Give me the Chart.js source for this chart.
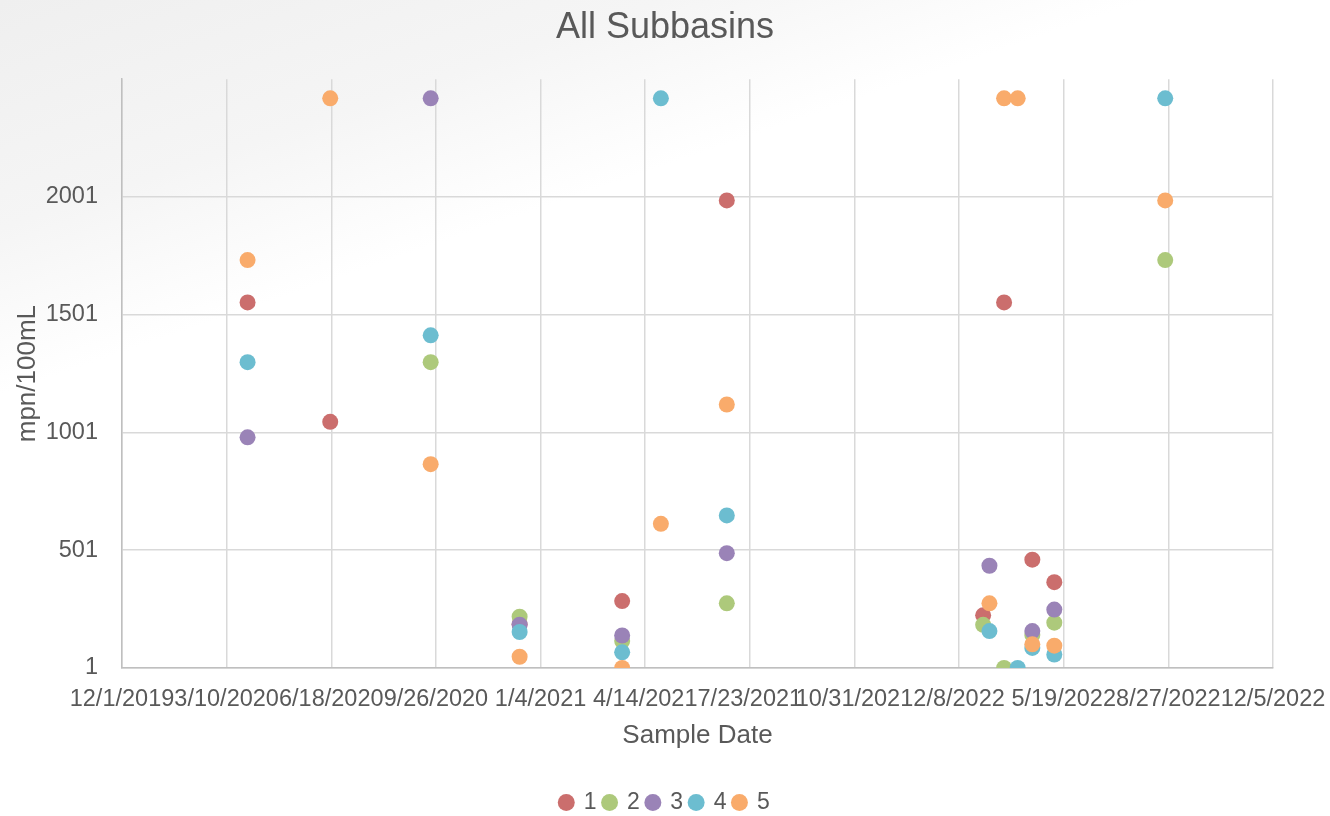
<!doctype html>
<html lang="en">
  <head>
    <meta charset="utf-8">
    <title>All Subbasins</title>
    <script src="https://cdn.jsdelivr.net/npm/chart.js"></script>
    <style>
      html, body { margin: 0; padding: 0; }
      body {
        width: 1330px;
        height: 816px;
        background: linear-gradient(161deg, #efefef 0%, #f5f5f5 18%, #fcfcfc 27%, #ffffff 31%);
        overflow: hidden;
      }
      .chart-box { position: relative; width: 1330px; height: 816px; }
    </style>
  </head>
  <body>
    <div class="chart-box">
      <canvas id="scatterChart" width="1330" height="816"></canvas>
    </div>
    <script>
      // series names and colours
      const subbasins = ['1', '2', '3', '4', '5'];
      const colors = ['#CB6E6D', '#ADC97B', '#9A83B7', '#6CBDD0', '#F9AB6B'];

      // sample dates and mpn/100mL per subbasin
      const dates1 = ['2020-03-30', '2020-06-17', '2020-12-15', '2021-03-23', '2021-07-01', '2022-03-03', '2022-03-23', '2022-04-19', '2022-05-10'];
      const values1 = [1553.1, 1046.2, 187, 285.1, 1986.3, 224.7, 1553.1, 461.1, 365.4];

      const dates2 = ['2020-09-21', '2020-12-15', '2021-03-23', '2021-07-01', '2022-03-03', '2022-03-23', '2022-04-19', '2022-05-10', '2022-08-24'];
      const values2 = [1299.7, 218.7, 115.3, 275.5, 184.2, 1, 141.4, 193.5, 1732.9];

      const dates3 = ['2020-03-30', '2020-09-21', '2020-12-15', '2021-03-23', '2021-07-01', '2022-03-09', '2022-04-19', '2022-05-10'];
      const values3 = [980.4, 2419.6, 185, 139.1, 488.4, 435.2, 157.6, 248.9];

      const dates4 = ['2020-03-30', '2020-09-21', '2020-12-15', '2021-03-23', '2021-04-29', '2021-07-01', '2022-03-09', '2022-04-05', '2022-04-19', '2022-05-10', '2022-08-24'];
      const values4 = [1299.7, 1413.6, 153.9, 67.7, 2419.6, 648.8, 157.6, 1, 86.2, 58.3, 2419.6];

      const dates5 = ['2020-03-30', '2020-06-17', '2020-09-21', '2020-12-15', '2021-03-23', '2021-04-29', '2021-07-01', '2022-03-09', '2022-03-23', '2022-04-05', '2022-04-19', '2022-05-10', '2022-08-24'];
      const values5 = [1732.9, 2419.6, 866.4, 48.7, 1, 613.1, 1119.9, 275.5, 2419.6, 2419.6, 101.7, 95.9, 1986.3];

      // axis settings
      const xStart = '2019-12-01';
      const xEnd = '2022-12-05';
      const xStepDays = 100;
      const yMin = 1;
      const yMax = 2501;
      const yStep = 500;

      const DAY = 86400000;
      function toDay(s) {
        const p = s.split('-').map(Number);
        const s0 = xStart.split('-').map(Number);
        return Math.round((Date.UTC(p[0], p[1] - 1, p[2]) - Date.UTC(s0[0], s0[1] - 1, s0[2])) / DAY);
      }
      function dayLabel(d) {
        const s0 = xStart.split('-').map(Number);
        const dt = new Date(Date.UTC(s0[0], s0[1] - 1, s0[2]) + d * DAY);
        return (dt.getUTCMonth() + 1) + '/' + dt.getUTCDate() + '/' + dt.getUTCFullYear();
      }

      const allDates = [dates1, dates2, dates3, dates4, dates5];
      const allValues = [values1, values2, values3, values4, values5];

      const datasets = subbasins.map((name, i) => ({
        label: name,
        data: allDates[i].map((d, j) => ({ x: toDay(d), y: allValues[i][j] })),
        backgroundColor: colors[i],
        borderColor: colors[i],
        borderWidth: 0,
        pointRadius: 8,
        pointHoverRadius: 8,
        order: subbasins.length - i
      }));

      const textColor = '#595959';
      const fontFamily = '"Liberation Sans", Arial, sans-serif';

      new Chart(document.getElementById('scatterChart'), {
        type: 'scatter',
        data: { datasets: datasets },
        options: {
          responsive: false,
          animation: false,
          layout: { padding: { left: 12, right: 12, top: 0, bottom: -8 } },
          plugins: {
            title: {
              display: true,
              text: 'All Subbasins',
              color: textColor,
              font: { family: fontFamily, size: 36, weight: 'normal' },
              padding: { top: 6, bottom: 30 }
            },
            legend: {
              position: 'bottom',
              labels: {
                usePointStyle: true,
                pointStyle: 'circle',
                boxWidth: 12,
                boxHeight: 12,
                padding: 7,
                color: textColor,
                font: { family: fontFamily, size: 23 },
                sort: (a, b) => a.datasetIndex - b.datasetIndex
              }
            },
            tooltip: { enabled: false }
          },
          scales: {
            x: {
              type: 'linear',
              min: 0,
              max: toDay(xEnd),
              afterFit: s => {
                // fixed band under the plot and a fixed right margin
                s.height = 116;
                s.paddingLeft = 0;
                s.paddingRight = 57;
              },
              ticks: {
                stepSize: xStepDays,
                autoSkip: false,
                maxRotation: 0,
                minRotation: 0,
                color: textColor,
                padding: 17,
                font: { family: fontFamily, size: 23.5 },
                callback: v => dayLabel(v)
              },
              grid: { color: '#d9d9d9', lineWidth: 1.5, drawTicks: false },
              border: { color: '#bfbfbf', width: 1.5 },
              title: {
                display: true,
                text: 'Sample Date',
                color: textColor,
                font: { family: fontFamily, size: 26 },
                padding: { top: 0, bottom: 33 }
              }
            },
            y: {
              min: yMin,
              max: yMax,
              afterFit: s => { s.width = 110; },
              ticks: {
                stepSize: yStep,
                color: textColor,
                padding: 24,
                font: { family: fontFamily, size: 23.5 },
                callback: v => (v === yMax ? '' : v)
              },
              grid: {
                color: ctx => (ctx.tick && ctx.tick.value === yMax ? 'rgba(0,0,0,0)' : '#d9d9d9'),
                lineWidth: 1.5,
                drawTicks: false
              },
              border: { color: '#bfbfbf', width: 1.5 },
              title: {
                display: true,
                text: 'mpn/100mL',
                color: textColor,
                font: { family: fontFamily, size: 26 },
                padding: { top: 0, bottom: 0 }
              }
            }
          }
        }
      });
    </script>
  </body>
</html>
